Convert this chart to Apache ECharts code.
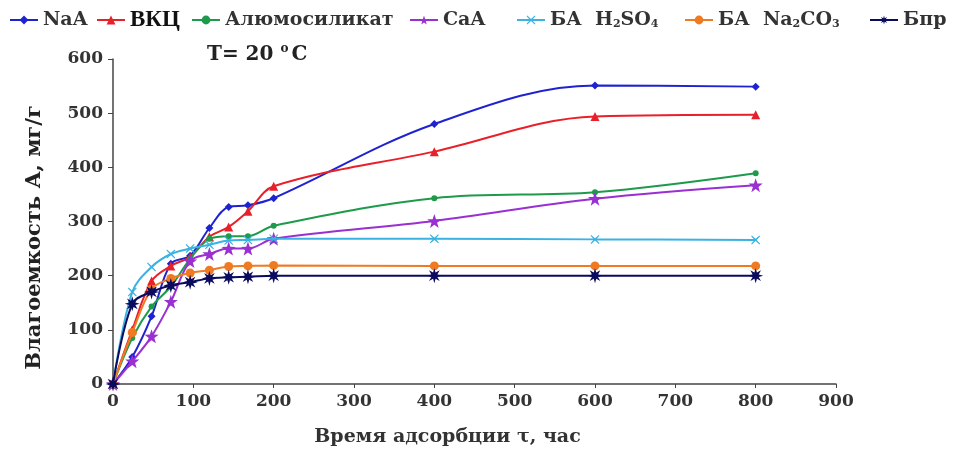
<!DOCTYPE html>
<html><head><meta charset="utf-8">
<script src="https://cdn.jsdelivr.net/npm/echarts@6/dist/echarts.min.js"></script>
<style>html,body{margin:0;padding:0;background:#fff}#c{width:960px;height:452px}</style>
</head><body><div id="c"></div>
<script>
const times = [0, 24, 48, 72, 96, 120, 144, 168, 200, 400, 600, 800];
const seriesNames = ['NaA', 'ВКЦ', 'Алюмосиликат', 'CaA', 'БА H2SO4', 'БА Na2CO3', 'Бпр'];
const naA  = [0, 50, 125, 222, 237, 288, 327, 330, 343, 480, 551, 549];
const vkc  = [0, 100, 190, 218, 235, 272, 290, 319, 365, 429, 494, 497];
const alum = [0, 85, 143, 180, 231, 268, 273, 273, 292, 343, 354, 389];
const caA  = [0, 42, 88, 152, 227, 240, 250, 250, 268, 301, 342, 367];
const baH  = [0, 170, 216, 240, 250, 257, 265, 266, 268, 268, 267, 266];
const baNa = [0, 95, 175, 195, 205, 210, 217, 218, 219, 218, 218, 218];
const bpr  = [0, 148, 170, 182, 188, 195, 197, 198, 200, 200, 200, 200];
const xTicks = [0, 100, 200, 300, 400, 500, 600, 700, 800, 900];
const yTicks = [0, 100, 200, 300, 400, 500, 600];

function starPath(n, rOut, rIn) {
  let d = '';
  for (let i = 0; i < 2 * n; i++) {
    const r = i % 2 === 0 ? rOut : rIn;
    const a = -Math.PI / 2 + i * Math.PI / n;
    d += (i === 0 ? 'M' : 'L') + (50 + r * Math.cos(a)).toFixed(2) + ',' + (50 + r * Math.sin(a)).toFixed(2);
  }
  return 'path://' + d + 'Z';
}
const star5 = starPath(5, 50, 20);
const star8 = starPath(8, 50, 22);
const xPath = 'path://M8,0 L50,38 L92,0 L100,8 L62,50 L100,92 L92,100 L50,62 L8,100 L0,92 L38,50 L0,8 Z';

const pairs = arr => times.map((t, i) => [t, arr[i]]);
const defs = [
  {data: naA,  color: '#1f22d0', symbol: 'diamond', size: 8},
  {data: vkc,  color: '#e8202a', symbol: 'triangle', size: 9},
  {data: alum, color: '#1e9a4b', symbol: 'circle', size: 6},
  {data: caA,  color: '#9a2fd2', symbol: star5, size: 14},
  {data: baH,  color: '#3ab2e2', symbol: xPath, size: 9},
  {data: baNa, color: '#f07a22', symbol: 'circle', size: 9},
  {data: bpr,  color: '#0b0b5e', symbol: star8, size: 15}
];
const legendLeft = [9, 96, 191, 409, 516, 684, 869];

const serif = '"DejaVu Serif", "Liberation Serif", serif';
const legendText = {
  fontFamily: serif, fontWeight: 'bold', fontSize: 19, color: '#333', lineHeight: 26,
  rich: {
    txt: {fontFamily: serif, fontWeight: 'bold', fontSize: 19, color: '#333', lineHeight: 26},
    big: {fontFamily: '"Liberation Serif", serif', fontWeight: 'bold', fontSize: 23, color: '#111', lineHeight: 26},
    sub: {fontFamily: serif, fontWeight: 'bold', fontSize: 11, color: '#333', lineHeight: 26, padding: [9, 0, 0, 0]}
  }
};
const legendFmt = function (n) {
  if (n === 'ВКЦ') return '{big|ВКЦ}';
  if (n === 'БА H2SO4') return '{txt|БА  H}{sub|2}{txt|SO}{sub|4}';
  if (n === 'БА Na2CO3') return '{txt|БА  Na}{sub|2}{txt|CO}{sub|3}';
  return '{txt|' + n + '}';
};

const chart = echarts.init(document.getElementById('c'), null, {renderer: 'canvas'});
chart.setOption({
  animation: false,
  backgroundColor: '#fff',
  grid: {left: 113, right: 124, top: 59, bottom: 66},
  legend: seriesNames.map((n, i) => ({
    top: 7, left: legendLeft[i], itemWidth: 28, itemHeight: 11, itemGap: 0,
    data: [n], formatter: legendFmt, textStyle: legendText, padding: 0
  })),
  xAxis: {
    type: 'value', min: 0, max: 900, interval: 100,
    name: 'Время адсорбции τ, час', nameLocation: 'middle', nameGap: 44,
    nameTextStyle: {fontFamily: serif, fontWeight: 'bold', fontSize: 19, color: '#333', padding: [0, 54, 0, 0]},
    axisLine: {lineStyle: {color: '#444', width: 1.5}},
    axisTick: {length: 4, lineStyle: {color: '#444'}},
    axisLabel: {fontFamily: serif, fontWeight: 'bold', fontSize: 17, color: '#333', margin: 9,
      formatter: v => xTicks.includes(v) ? String(v) : ''},
    splitLine: {show: false}
  },
  yAxis: {
    type: 'value', min: 0, max: 600, interval: 100,
    name: 'Влагоемкость А, мг/г', nameLocation: 'middle', nameGap: 68,
    nameTextStyle: {fontFamily: serif, fontWeight: 'bold', fontSize: 21, color: '#222', padding: [0, 32, 0, 0]},
    axisLine: {show: true, lineStyle: {color: '#444', width: 1.5}},
    axisTick: {show: true, length: 5, lineStyle: {color: '#444'}},
    axisLabel: {fontFamily: serif, fontWeight: 'bold', fontSize: 17, color: '#333', margin: 10,
      formatter: v => yTicks.includes(v) ? String(v) : ''},
    splitLine: {show: false}
  },
  graphic: [{
    type: 'text', left: 207, top: 43,
    style: {
      text: 'T= 20 {sup|o}C',
      font: 'bold 20px ' + serif, fill: '#222',
      rich: {sup: {font: 'bold 12px ' + serif, fill: '#222', padding: [0, 3, 12, 0]}}
    }
  }],
  series: defs.map((d, i) => ({
    name: seriesNames[i], type: 'line', data: pairs(d.data),
    smooth: 0.35, symbol: d.symbol, symbolSize: d.size, showAllSymbol: true,
    lineStyle: {color: d.color, width: 2},
    itemStyle: {color: d.color},
    z: 2 + i
  }))
});
</script></body></html>
